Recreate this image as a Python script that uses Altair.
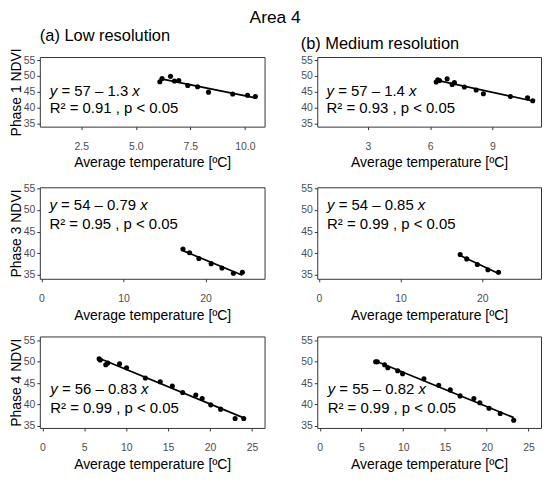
import altair as alt
import pandas as pd

FONT = "Liberation Sans"

# Phase 1, low resolution
lo1_t = [6.1, 6.2, 6.59, 6.77, 6.97, 7.38, 7.83, 8.33, 9.44, 10.12, 10.48]
lo1_v = [48.2, 49.2, 49.9, 48.4, 48.6, 47.0, 46.6, 44.9, 44.3, 43.9, 43.5]
# Phase 1, medium resolution
md1_t = [6.29, 6.37, 6.45, 6.82, 7.06, 7.17, 7.65, 8.22, 8.57, 9.87, 10.7, 10.95]
md1_v = [48.1, 48.8, 48.6, 49.1, 47.3, 47.9, 46.5, 45.6, 44.4, 43.5, 43.1, 42.2]
# Phase 3, low resolution
lo3_t = [17.25, 18.06, 19.19, 20.69, 22.0, 23.4, 24.5]
lo3_v = [41.0, 40.1, 38.8, 37.6, 36.6, 35.4, 35.6]
# Phase 3, medium resolution
md3_t = [17.3, 18.1, 19.4, 20.7, 22.0]
md3_v = [39.7, 38.7, 37.4, 36.2, 35.6]
# Phase 4, low resolution
lo4_t = [6.77, 6.9, 7.56, 7.8, 9.21, 10.04, 12.28, 14.06, 15.5, 16.73, 18.3, 19.06, 20.08, 21.26, 22.99, 24.02]
lo4_v = [50.7, 50.4, 49.3, 49.7, 49.5, 48.6, 46.2, 45.3, 44.3, 42.8, 42.2, 41.4, 39.9, 38.9, 36.7, 36.7]
# Phase 4, medium resolution
md4_t = [6.69, 6.89, 7.76, 8.15, 9.33, 9.92, 12.48, 14.25, 15.63, 16.81, 18.46, 19.17, 20.28, 21.61, 23.23]
md4_v = [50.0, 50.0, 49.3, 48.6, 47.9, 47.2, 46.0, 44.5, 43.4, 42.0, 41.4, 40.4, 39.1, 37.9, 36.3]

eq_labels = ["y = 57 \u2013 1.3 x", "y = 57 \u2013 1.4 x", "y = 54 \u2013 0.79 x",
             "y = 54 \u2013 0.85 x", "y = 56 \u2013 0.83 x", "y = 55 \u2013 0.82 x"]
r2_labels = ["R\u00b2 = 0.91 , p < 0.05", "R\u00b2 = 0.93 , p < 0.05", "R\u00b2 = 0.95 , p < 0.05",
             "R\u00b2 = 0.99 , p < 0.05", "R\u00b2 = 0.99 , p < 0.05", "R\u00b2 = 0.99 , p < 0.05"]
y_ticks = [35, 40, 45, 50, 55]
x_title = "Average temperature [\u00baC]"

FS = 15
# approximate Arial/Liberation Sans advance widths (em)
CW = {" ": 0.278, "=": 0.584, "\u2013": 0.556, ".": 0.278, "y": 0.5, "x": 0.5}


def text_w(s):
    return sum(CW.get(c, 0.556) for c in s) * FS


def panel(t, v, eq, r2, lx, ly1, ly2, xdom, xticks, xfmt, ydom, w, h, ytitle, header=None, hframe="group"):
    df = pd.DataFrame({"t": t, "v": v})
    xs = alt.Scale(domain=xdom, nice=False, zero=False)
    ys = alt.Scale(domain=ydom, nice=False, zero=False)
    xax = alt.Axis(values=xticks, format=xfmt, title=x_title, labelPadding=12, titlePadding=4,
                   labelOverlap=False)
    if ytitle:
        yax = alt.Axis(title=ytitle, titlePadding=0, values=y_ticks, labelOverlap=False)
    else:
        yax = alt.Axis(title=None, values=y_ticks, labelOverlap=False)
    X = alt.X("t:Q", scale=xs, axis=xax)
    Y = alt.Y("v:Q", scale=ys, axis=yax)
    base = alt.Chart(df)
    pts = base.mark_circle(size=26, color="black", opacity=1).encode(x=X, y=Y)
    line = base.transform_regression("t", "v").mark_line(color="black", strokeWidth=1.7).encode(x=X, y=Y)

    ypart, mid, xpart = eq[0], eq[2:-2], eq[-1]
    d_mid = text_w(ypart + " ")
    d_x = d_mid + text_w(mid + " ")
    tx = dict(align="left", baseline="middle", fontSize=FS, font=FONT, color="black")
    l1 = alt.Chart(pd.DataFrame({"t": [lx], "v": [ly1], "s": [ypart]})).mark_text(
        fontStyle="italic", **tx).encode(x=X, y=Y, text="s:N")
    l2 = alt.Chart(pd.DataFrame({"t": [lx], "v": [ly1], "s": [mid]})).mark_text(
        dx=d_mid, **tx).encode(x=X, y=Y, text="s:N")
    l3 = alt.Chart(pd.DataFrame({"t": [lx], "v": [ly1], "s": [xpart]})).mark_text(
        dx=d_x, fontStyle="italic", **tx).encode(x=X, y=Y, text="s:N")
    l4 = alt.Chart(pd.DataFrame({"t": [lx], "v": [ly2], "s": [r2]})).mark_text(
        **tx).encode(x=X, y=Y, text="s:N")
    ch = alt.layer(pts, line, l1, l2, l3, l4).properties(width=w, height=h)
    if header:
        ch = ch.properties(title=alt.TitleParams(header, anchor="start", frame=hframe, fontSize=16.5,
                                                 fontWeight="normal", font=FONT, offset=3, color="black"))
    return ch


p1 = panel(lo1_t, lo1_v, eq_labels[0], r2_labels[0], 1.06, 45.4, 40.0, [0.6, 10.9], [2.5, 5, 7.5, 10], ".1f",
           [34.0, 56.0], 226, 70, "Phase 1 NDVI", "(a) Low resolution", "group")
p2 = panel(md1_t, md1_v, eq_labels[1], r2_labels[1], 1.0, 45.4, 40.0, [0.55, 11.35], [3, 6, 9], "d",
           [34.0, 56.0], 225, 70, None, "(b) Medium resolution", "bounds")
p3 = panel(lo3_t, lo3_v, eq_labels[2], r2_labels[2], 0.97, 51.1, 46.7, [-0.2, 27.2], [0, 10, 20], "d",
           [34.1, 55.25], 226, 92, "Phase 3 NDVI")
p4 = panel(md3_t, md3_v, eq_labels[3], r2_labels[3], 1.0, 51.1, 46.7, [-0.2, 27.2], [0, 10, 20], "d",
           [34.1, 55.25], 225, 92, None)
p5 = panel(lo4_t, lo4_v, eq_labels[4], r2_labels[4], 0.95, 43.6, 39.2, [-0.3, 26.5], [0, 5, 10, 15, 20, 25], "d",
           [34.5, 55.9], 226, 92, "Phase 4 NDVI")
p6 = panel(md4_t, md4_v, eq_labels[5], r2_labels[5], 0.95, 43.6, 39.2, [-0.3, 26.5], [0, 5, 10, 15, 20, 25], "d",
           [34.5, 55.9], 225, 92, None)

row1 = alt.hconcat(p1, p2, spacing=34)
row2 = alt.hconcat(p3, p4, spacing=34)
row3 = alt.hconcat(p5, p6, spacing=34)

chart = alt.vconcat(row1, row2, row3, spacing=12).properties(
    title=alt.TitleParams("Area 4", anchor="middle", fontSize=17.5, fontWeight="normal", font=FONT,
                          color="black", offset=1),
    background="white",
    padding=0,
).configure_view(stroke="#333333", strokeWidth=1).configure_axis(
    grid=False, domain=False, labelFont=FONT, titleFont=FONT, labelFontSize=10.5, labelColor="#4d4d4d",
    titleFontSize=14, titleFontWeight="normal", titleColor="black", tickColor="#333333", tickSize=3,
).configure_axisY(titleFontSize=14, labelPadding=2)

chart.save("out.html", embed_options={"renderer": "svg", "actions": False})
